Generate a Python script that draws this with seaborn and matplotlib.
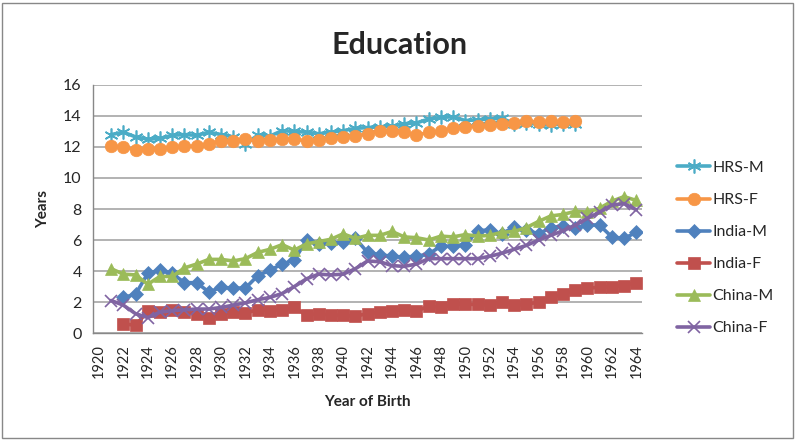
import numpy as np
import pandas as pd
import matplotlib
matplotlib.use("Agg")
import matplotlib.pyplot as plt
import seaborn as sns

sns.set_style("white")
plt.rcParams['font.family'] = ['Lato', 'DejaVu Sans']

# years of birth
hrs_years = list(range(1921, 1960))
india_years = list(range(1922, 1965))
china_years = list(range(1921, 1965))

hrs_m = [12.8, 12.95, 12.65, 12.5, 12.55, 12.75, 12.8, 12.75, 12.95, 12.8,
         12.65, 12.2, 12.75, 12.7, 13.05, 13.0, 12.95, 12.85, 12.95, 13.05,
         13.2, 13.25, 13.3, 13.33, 13.5, 13.55, 13.8, 13.9, 13.95, 13.7,
         13.75, 13.8, 13.85, 13.5, 13.55, 13.45, 13.4, 13.5, 13.45]
hrs_f = [12.05, 12.0, 11.8, 11.85, 11.9, 12.0, 12.05, 12.05, 12.2, 12.4,
         12.4, 12.5, 12.4, 12.45, 12.5, 12.5, 12.4, 12.45, 12.55, 12.65,
         12.7, 12.85, 13.05, 13.0, 12.95, 12.75, 12.95, 13.0, 13.25, 13.3,
         13.35, 13.4, 13.45, 13.55, 13.65, 13.6, 13.65, 13.6, 13.7]
india_m = [2.3, 2.5, 3.85, 4.05, 3.85, 3.25, 3.25, 2.65, 2.95, 2.9,
           2.9, 3.7, 4.05, 4.45, 4.7, 6.0, 5.75, 5.8, 5.85, 6.1,
           5.2, 5.05, 4.95, 4.9, 4.95, 5.1, 5.6, 5.6, 5.7, 6.6,
           6.65, 6.4, 6.85, 6.65, 6.4, 6.8, 6.9, 6.75, 7.0, 6.95,
           6.2, 6.1, 6.5]
india_f = [0.6, 0.5, 1.4, 1.35, 1.5, 1.35, 1.25, 0.95, 1.25, 1.35,
           1.3, 1.5, 1.45, 1.5, 1.65, 1.15, 1.25, 1.15, 1.15, 1.1,
           1.25, 1.35, 1.45, 1.5, 1.4, 1.75, 1.65, 1.85, 1.85, 1.85,
           1.8, 2.0, 1.8, 1.85, 2.0, 2.3, 2.5, 2.75, 2.9, 2.95,
           3.0, 3.05, 3.25]
china_m = [4.15, 3.8, 3.75, 3.15, 3.65, 3.65, 4.2, 4.45, 4.75, 4.75,
           4.65, 4.8, 5.2, 5.4, 5.7, 5.35, 5.75, 5.9, 6.05, 6.4,
           6.1, 6.3, 6.3, 6.55, 6.2, 6.15, 6.0, 6.25, 6.2, 6.35,
           6.25, 6.3, 6.5, 6.55, 6.8, 7.2, 7.55, 7.65, 7.85, 7.8,
           8.05, 8.5, 8.8, 8.55]
china_f = [2.1, 1.8, 1.25, 1.0, 1.35, 1.45, 1.5, 1.55, 1.55, 1.65,
           1.8, 1.95, 2.15, 2.3, 2.55, 3.0, 3.5, 3.8, 3.75, 3.8,
           4.15, 4.65, 4.6, 4.35, 4.3, 4.45, 4.8, 4.8, 4.8, 4.8,
           4.8, 4.95, 5.15, 5.4, 5.65, 6.0, 6.3, 6.6, 6.95, 7.4,
           7.8, 8.25, 8.35, 7.95]

series = [
    ("HRS-M", hrs_years, hrs_m, "#4BACC6", (6, 2, 0), 10),
    ("HRS-F", hrs_years, hrs_f, "#F79646", "o", 9),
    ("India-M", india_years, india_m, "#4F81BD", "D", 7),
    ("India-F", india_years, india_f, "#C0504D", "s", 8),
    ("China-M", china_years, china_m, "#9BBB59", "^", 9),
    ("China-F", china_years, china_f, "#8064A2", "x", 8),
]

fig = plt.figure(figsize=(8, 4.4), dpi=100)
ax = fig.add_axes([0.116, 0.243, 0.687, 0.564])

handles = []
for name, yrs, vals, col, mk, ms in series:
    df = pd.DataFrame({"year": yrs, "val": vals})
    sns.lineplot(data=df, x="year", y="val", ax=ax, color=col, linewidth=2.6,
                 marker=mk, markersize=ms, markeredgecolor=col,
                 markeredgewidth=1.2 if mk in ("x", (6, 2, 0)) else 0.5)
    handles.append(ax.lines[-1])

ax.set_xlim(1919.5, 1964.5)
ax.set_ylim(0, 16)
ax.set_yticks(np.arange(0, 17, 2))
ax.set_xticks(np.arange(1920, 1965, 2))
ax.set_xticklabels([str(y) for y in range(1920, 1965, 2)], rotation=90)
ax.set_xticks(np.arange(1919.5, 1965, 1), minor=True)
ax.tick_params(axis="x", which="major", length=0, labelsize=10.5, pad=8)
ax.tick_params(axis="x", which="minor", length=5, color="#888888", width=0.8)
ax.tick_params(axis="y", labelsize=11.5, length=0, pad=8)
ax.grid(axis="y", color="#A6A6A6", linewidth=1.2)
ax.set_axisbelow(True)
for s in ["top", "right"]:
    ax.spines[s].set_visible(False)
for s in ["left", "bottom"]:
    ax.spines[s].set_color("#888888")
    ax.spines[s].set_linewidth(1)

ax.set_xlabel("Year of Birth", fontsize=11, fontweight="bold", labelpad=12)
ax.set_ylabel("Years", fontsize=11, fontweight="bold", labelpad=9)
fig.text(0.5, 0.898, "Education", ha="center", va="center",
         fontsize=22, fontweight="bold")

fig.legend(handles, [s[0] for s in series], loc="center left",
           bbox_to_anchor=(0.828, 0.436), frameon=False, fontsize=11.5,
           labelspacing=1.12, handlelength=2.1, handletextpad=0.15)

fig.patches.append(plt.Rectangle((0.003, 0.004), 0.988, 0.99, transform=fig.transFigure,
                                 fill=False, edgecolor="#888888", linewidth=1))

fig.savefig("out.png", dpi=100)
